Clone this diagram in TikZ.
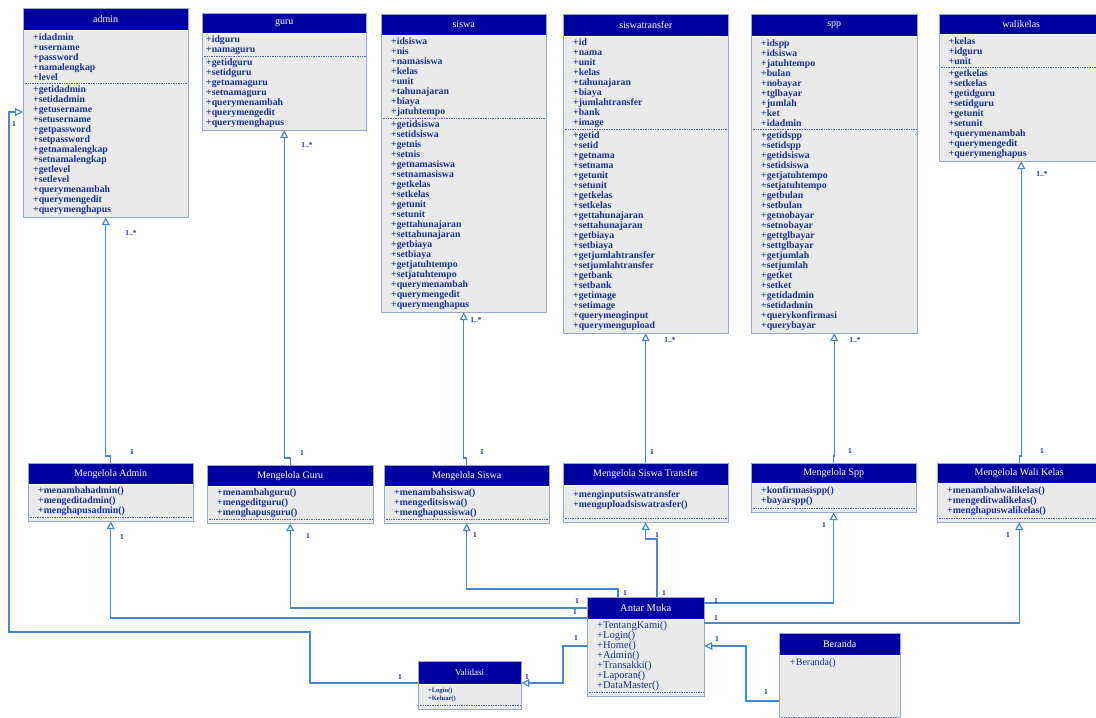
\documentclass[tikz,border=0pt]{standalone}
\usepackage{fontspec}
\setmainfont{Liberation Serif}
\usepackage{tikz}
\usetikzlibrary{arrows.meta}
\usetikzlibrary{positioning}
\definecolor{hdblue}{RGB}{0,0,160}
\definecolor{bodygray}{RGB}{234,234,234}
\definecolor{boxline}{RGB}{150,170,200}
\definecolor{txtblue}{RGB}{25,50,150}
\definecolor{lineblue}{RGB}{72,135,205}
\definecolor{sepblue}{RGB}{80,100,170}

\begin{document}
\begin{tikzpicture}[x=1pt,y=-1pt,
  hd/.style={rectangle,fill=hdblue,text=white,font=\fontsize{10}{12}\selectfont,minimum width=165pt,minimum height=21pt,inner sep=0pt,anchor=north west},
  sec/.style={rectangle,fill=bodygray,text=txtblue,font=\fontsize{9.8}{10}\selectfont\bfseries,align=left,text width=145pt,inner xsep=10pt,inner ysep=1.5pt},
  nrows/.style={minimum height=#1*10pt+3pt},
  box/.style={draw=boxline,line width=0.8pt},
  sep/.style={draw=sepblue,densely dotted,line width=0.7pt},
  cn/.style={draw=lineblue,line width=1.2pt,-{Triangle[open,length=8pt,width=8pt]}},
  lbl/.style={text=txtblue,font=\fontsize{7.5}{8}\selectfont\bfseries,inner sep=0pt}]
\useasboundingbox (0,0) rectangle (1096,718);
\fill[white] (0,0) rectangle (1096,718);

% entity classes
\node[hd,minimum height=22pt] (admin) at (23,8) {admin};
\node[sec,nrows=5,below=0pt of admin] (adminat) {+idadmin\\+username\\+password\\+namalengkap\\+level};
\node[sec,nrows=13,below=0pt of adminat] (adminop) {+getidadmin\\+setidadmin\\+getusername\\+setusername\\+getpassword\\+setpassword\\+getnamalengkap\\+setnamalengkap\\+getlevel\\+setlevel\\+querymenambah\\+querymengedit\\+querymenghapus};
\draw[sep] (adminat.south west) -- (adminat.south east);
\draw[box] (admin.north west) rectangle (adminop.south east);

\node[hd,minimum width=164pt,minimum height=20pt] (guru) at (202,13) {guru};
\node[sec,nrows=2,text width=156pt,inner xsep=4pt,below=0pt of guru] (guruat) {+idguru\\+namaguru};
\node[sec,nrows=7,text width=156pt,inner xsep=4pt,below=0pt of guruat] (guruop) {+getidguru\\+setidguru\\+getnamaguru\\+setnamaguru\\+querymenambah\\+querymengedit\\+querymenghapus};
\draw[sep] (guruat.south west) -- (guruat.south east);
\draw[box] (guru.north west) rectangle (guruop.south east);

\node[hd] (siswa) at (381,14) {siswa};
\node[sec,nrows=8,below=0pt of siswa] (siswaat) {+idsiswa\\+nis\\+namasiswa\\+kelas\\+unit\\+tahunajaran\\+biaya\\+jatuhtempo};
\node[sec,nrows=19,below=0pt of siswaat] (siswaop) {+getidsiswa\\+setidsiswa\\+getnis\\+setnis\\+getnamasiswa\\+setnamasiswa\\+getkelas\\+setkelas\\+getunit\\+setunit\\+gettahunajaran\\+settahunajaran\\+getbiaya\\+setbiaya\\+getjatuhtempo\\+setjatuhtempo\\+querymenambah\\+querymengedit\\+querymenghapus};
\draw[sep] (siswaat.south west) -- (siswaat.south east);
\draw[box] (siswa.north west) rectangle (siswaop.south east);

\node[hd,minimum height=22pt] (transfer) at (563,14) {siswatransfer};
\node[sec,nrows=9,below=0pt of transfer] (transferat) {+id\\+nama\\+unit\\+kelas\\+tahunajaran\\+biaya\\+jumlahtransfer\\+bank\\+image};
\node[sec,nrows=20,below=0pt of transferat] (transferop) {+getid\\+setid\\+getnama\\+setnama\\+getunit\\+setunit\\+getkelas\\+setkelas\\+gettahunajaran\\+settahunajaran\\+getbiaya\\+setbiaya\\+getjumlahtransfer\\+setjumlahtransfer\\+getbank\\+setbank\\+getimage\\+setimage\\+querymenginput\\+querymengupload};
\draw[sep] (transferat.south west) -- (transferat.south east);
\draw[box] (transfer.north west) rectangle (transferop.south east);

\node[hd,minimum width=166pt,minimum height=22pt] (spp) at (751,14) {spp};
\node[sec,nrows=9,text width=146pt,below=0pt of spp] (sppat) {+idspp\\+idsiswa\\+jatuhtempo\\+bulan\\+nobayar\\+tglbayar\\+jumlah\\+ket\\+idadmin};
\node[sec,nrows=20,text width=146pt,below=0pt of sppat] (sppop) {+getidspp\\+setidspp\\+getidsiswa\\+setidsiswa\\+getjatuhtempo\\+setjatuhtempo\\+getbulan\\+setbulan\\+getnobayar\\+setnobayar\\+gettglbayar\\+settglbayar\\+getjumlah\\+setjumlah\\+getket\\+setket\\+getidadmin\\+setidadmin\\+querykonfirmasi\\+querybayar};
\draw[sep] (sppat.south west) -- (sppat.south east);
\draw[box] (spp.north west) rectangle (sppop.south east);

\node[hd,minimum width=164pt,minimum height=20pt] (wali) at (939,14) {walikelas};
\node[sec,nrows=3,text width=145pt,inner xsep=9.5pt,below=0pt of wali] (waliat) {+kelas\\+idguru\\+unit};
\node[sec,nrows=9,text width=145pt,inner xsep=9.5pt,below=0pt of waliat] (waliop) {+getkelas\\+setkelas\\+getidguru\\+setidguru\\+getunit\\+setunit\\+querymenambah\\+querymengedit\\+querymenghapus};
\draw[sep] (waliat.south west) -- (waliat.south east);
\draw[box] (wali.north west) rectangle (waliop.south east);

% control classes
\node[hd] (mgadmin) at (28,463) {Mengelola Admin};
\node[sec,nrows=3,below=0pt of mgadmin] (mgadminup) {+menambahadmin()\\+mengeditadmin()\\+menghapusadmin()};
\node[sec,minimum height=3pt,below=0pt of mgadminup] (mgadminlo) {};
\draw[sep] (mgadminup.south west) -- (mgadminup.south east);
\draw[box] (mgadmin.north west) rectangle (mgadminlo.south east);

\node[hd,minimum width=166pt] (mgguru) at (207,465) {Mengelola Guru};
\node[sec,nrows=3,text width=146pt,below=0pt of mgguru] (mgguruup) {+menambahguru()\\+mengeditguru()\\+menghapusguru()};
\node[sec,minimum height=3pt,text width=146pt,below=0pt of mgguruup] (mggurulo) {};
\draw[sep] (mgguruup.south west) -- (mgguruup.south east);
\draw[box] (mgguru.north west) rectangle (mggurulo.south east);

\node[hd] (mgsiswa) at (384,465) {Mengelola Siswa};
\node[sec,nrows=3,below=0pt of mgsiswa] (mgsiswaup) {+menambahsiswa()\\+mengeditsiswa()\\+menghapussiswa()};
\node[sec,minimum height=3pt,below=0pt of mgsiswaup] (mgsiswalo) {};
\draw[sep] (mgsiswaup.south west) -- (mgsiswaup.south east);
\draw[box] (mgsiswa.north west) rectangle (mgsiswalo.south east);

\node[hd,minimum height=22pt] (mgtransfer) at (563,463) {Mengelola Siswa Transfer};
\node[sec,minimum height=33pt,text depth=16pt,inner ysep=0pt,below=0pt of mgtransfer] (mgtransferup) {+menginputsiswatransfer\\+menguploadsiswatrasfer()};
\node[sec,minimum height=3pt,below=0pt of mgtransferup] (mgtransferlo) {};
\draw[sep] (mgtransferup.south west) -- (mgtransferup.south east);
\draw[box] (mgtransfer.north west) rectangle (mgtransferlo.south east);

\node[hd,minimum height=20pt] (mgspp) at (751,463) {Mengelola Spp};
\node[sec,minimum height=25pt,below=0pt of mgspp] (mgsppup) {+konfirmasispp()\\+bayarspp()};
\node[sec,minimum height=3pt,below=0pt of mgsppup] (mgspplo) {};
\draw[sep] (mgsppup.south west) -- (mgsppup.south east);
\draw[box] (mgspp.north west) rectangle (mgspplo.south east);

\node[hd,minimum width=164pt,minimum height=20pt] (mgwali) at (937,463) {Mengelola Wali Kelas};
\node[sec,minimum height=35pt,text width=144pt,below=0pt of mgwali] (mgwaliup) {+menambahwalikelas()\\+mengeditwalikelas()\\+menghapuswalikelas()};
\node[sec,minimum height=2pt,text width=144pt,below=0pt of mgwaliup] (mgwalilo) {};
\draw[sep] (mgwaliup.south west) -- (mgwaliup.south east);
\draw[box] (mgwali.north west) rectangle (mgwalilo.south east);

% boundary classes
\node[hd,minimum width=117pt,minimum height=22pt,font=\fontsize{10.5}{12}\selectfont] (antar) at (587,597) {Antar Muka};
\node[sec,nrows=7,text width=97pt,font=\fontsize{10.5}{10}\selectfont,below=0pt of antar] (antarup) {+TentangKami()\\+Login()\\+Home()\\+Admin()\\+Transakki()\\+Laporan()\\+DataMaster()};
\node[sec,minimum height=2pt,text width=97pt,below=0pt of antarup] (antarlo) {};
\draw[sep] (antarup.south west) -- (antarup.south east);
\draw[box] (antar.north west) rectangle (antarlo.south east);

\node[hd,minimum width=103pt,minimum height=23pt,font=\fontsize{9}{11}\selectfont] (validasi) at (418,661) {Validasi};
\node[sec,minimum height=21pt,text width=83pt,font=\fontsize{6.5}{8}\selectfont\bfseries,below=0pt of validasi] (validasiup) {+Login()\\+Keluar()};
\node[sec,minimum height=3pt,text width=83pt,below=0pt of validasiup] (validasilo) {};
\draw[sep] (validasiup.south west) -- (validasiup.south east);
\draw[box] (validasi.north west) rectangle (validasilo.south east);

\node[hd,minimum width=121pt,minimum height=22pt] (beranda) at (779,633) {Beranda};
\node[sec,minimum height=62pt,text depth=50pt,text width=99pt,inner xsep=11pt,font=\fontsize{10}{10}\selectfont,below=0pt of beranda] (berandaup) {+Beranda()};
\node[sec,minimum height=4pt,text width=99pt,inner xsep=11pt,below=0pt of berandaup] (berandalo) {};
\draw[sep] (berandaup.south west) -- (berandaup.south east);
\draw[box] (beranda.north west) rectangle (berandalo.south east);

% connectors
\draw[cn] (mgadmin.north) -- ++(0,-7) -| (adminop.south);
\draw[cn] (mgguru.north) -- ++(0,-7) -| (guruop.south);
\draw[cn] (mgsiswa.north) -- ++(0,-7) -| (siswaop.south);
\draw[cn] (mgtransfer.north) -- ++(0,-7) -| (transferop.south);
\draw[cn] (mgspp.north) -- ++(0,-7) -| (sppop.south);
\draw[cn] (mgwali.north) -- ++(0,-7) -| (waliop.south);

\draw[cn] (antar.west |- 0,618) -| (mgadminlo.south);
\draw[cn] (antar.west |- 0,608) -| (mggurulo.south);
\draw[cn] (antar.north -| 618,0) -- ++(0,-8) -| (mgsiswalo.south);
\draw[cn] (antar.north -| 657,0) -- (657,539) -| (mgtransferlo.south);
\draw[cn] (antar.east |- 0,603) -| (mgspplo.south);
\draw[cn] (antarup.east |- 0,623) -| (mgwalilo.south);

\draw[cn] (antarup.west |- 0,646) -- (563,646) |- (validasi.east |- 0,683);
\draw[cn] (beranda.west |- 0,701) -- (746,701) |- (antarup.east |- 0,646);
\draw[cn] (validasi.west |- 0,683) -| (310,632) -| (9,112) -- (adminop.west |- 0,112);

% multiplicities
\foreach \px/\py/\txt [count=\i] in {14/124/1, 131/233/1..*, 307/145/1..*, 476/320/1..*, 670/340/1..*, 855/340/1..*, 1042/174/1..*,
  132/452/1, 302/453/1, 482/452/1, 652/452/1, 850/451/1, 1042/451/1,
  122/537/1, 308/536/1, 475/535/1, 657/535/1, 824/525/1, 1008/535/1,
  577/601/1, 575/612/1, 625/593/1, 664/593/1, 716/601/1, 716/618/1, 717/639/1, 576/638/1,
  766/692/1, 400/677/1, 527/677/1}
  \node[lbl] (lab\i) at (\px,\py) {\txt};
\end{tikzpicture}
\end{document}
